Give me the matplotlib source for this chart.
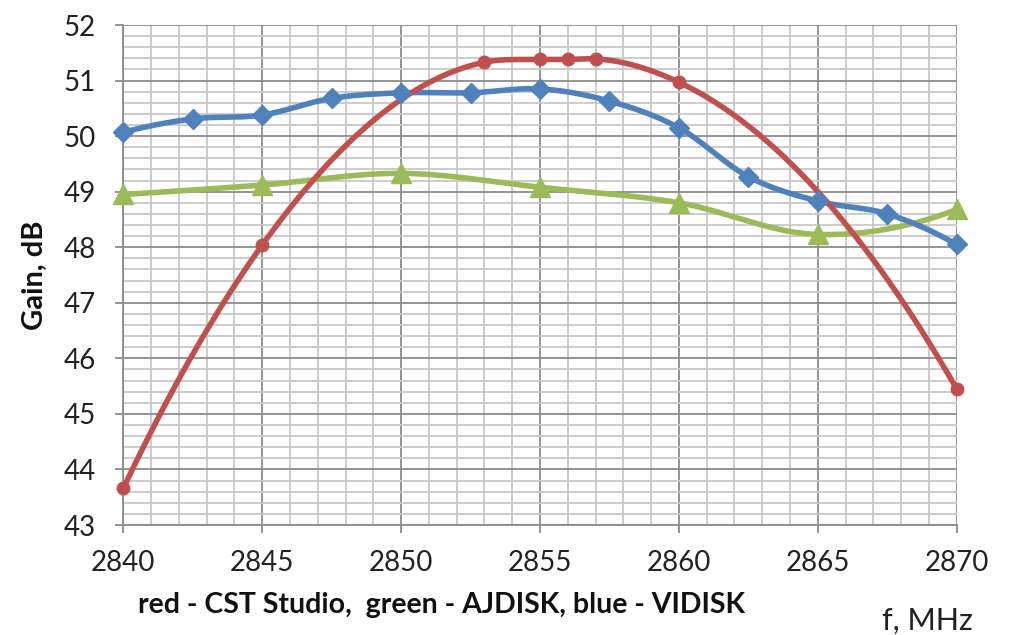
import numpy as np
import matplotlib
matplotlib.use("Agg")
import matplotlib.pyplot as plt
from matplotlib.ticker import MultipleLocator

# ---- data ----
red_f = [2840, 2845, 2853, 2855, 2856, 2857, 2860, 2870]
red_gain = [43.66, 48.04, 51.33, 51.38, 51.38, 51.39, 50.97, 45.45]

blue_f = [2840, 2842.5, 2845, 2847.5, 2850, 2852.5, 2855, 2857.5, 2860, 2862.5, 2865, 2867.5, 2870]
blue_gain = [50.07, 50.31, 50.38, 50.68, 50.78, 50.78, 50.85, 50.63, 50.15, 49.27, 48.83, 48.6, 48.05]

green_f = [2840, 2845, 2850, 2855, 2860, 2865, 2870]
green_gain = [48.95, 49.12, 49.33, 49.08, 48.8, 48.23, 48.68]

x_ticks = [2840, 2845, 2850, 2855, 2860, 2865, 2870]
y_ticks = [43, 44, 45, 46, 47, 48, 49, 50, 51, 52]

RED = "#C0504D"
BLUE = "#4F81BD"
GREEN = "#9BBB59"


def smooth(x, y, n=40):
    """Smoothed line through the points: cubic Hermite with parabolic (3-point) slopes."""
    x = np.asarray(x, float)
    y = np.asarray(y, float)
    m = len(x)
    d = np.zeros(m)
    for i in range(m):
        if i == 0:
            j = (0, 1, 2)
        elif i == m - 1:
            j = (m - 3, m - 2, m - 1)
        else:
            j = (i - 1, i, i + 1)
        x0, x1, x2 = x[list(j)]
        y0, y1, y2 = y[list(j)]
        f01 = (y1 - y0) / (x1 - x0)
        f12 = (y2 - y1) / (x2 - x1)
        f012 = (f12 - f01) / (x2 - x0)
        # derivative of the parabola through the three points at x[i]
        d[i] = f01 + f012 * ((x[i] - x0) + (x[i] - x1))
    xs, ys = [], []
    for i in range(m - 1):
        h = x[i + 1] - x[i]
        t = np.linspace(0, 1, n)
        if i > 0:
            t = t[1:]
        h00 = (1 + 2 * t) * (1 - t) ** 2
        h10 = t * (1 - t) ** 2
        h01 = t ** 2 * (3 - 2 * t)
        h11 = t ** 2 * (t - 1)
        xs.append(x[i] + t * h)
        ys.append(h00 * y[i] + h10 * h * d[i] + h01 * y[i + 1] + h11 * h * d[i + 1])
    return np.concatenate(xs), np.concatenate(ys)


plt.rcParams['font.family'] = ['Lato', 'DejaVu Sans']

fig = plt.figure(figsize=(10.18, 6.35), dpi=100)
ax = fig.add_axes([0.1211, 0.1732, 0.8187, 0.7874])

ax.set_xlim(2840, 2870)
ax.set_ylim(43, 52)
ax.xaxis.set_minor_locator(MultipleLocator(1))
ax.yaxis.set_minor_locator(MultipleLocator(0.2))
ax.set_xticks(x_ticks)
ax.set_yticks(y_ticks)

ax.grid(which='minor', color='#C8C8C8', linewidth=1.3, zorder=0)
ax.grid(which='major', color='#8C8C8C', linewidth=1.3, zorder=0)
ax.set_axisbelow(True)

for s in ['top', 'right']:
    ax.spines[s].set_visible(False)
for s in ['left', 'bottom']:
    ax.spines[s].set_color('#8C8C8C')
    ax.spines[s].set_linewidth(1.3)

ax.tick_params(axis='both', which='major', direction='out', length=6, width=1.3,
               color='#8C8C8C', labelsize=20, labelcolor='#222222')
ax.tick_params(axis='x', which='major', pad=12)
ax.tick_params(axis='y', which='major', pad=14)
ax.tick_params(which='minor', length=0)

for fx, gy, col, mk, ms in [(green_f, green_gain, GREEN, '^', 15),
                            (blue_f, blue_gain, BLUE, 'D', 10),
                            (red_f, red_gain, RED, 'o', 9)]:
    sx, sy = smooth(fx, gy)
    ax.plot(sx, sy, color=col, linewidth=4, solid_capstyle='round', zorder=3, clip_on=False)
    ax.plot(fx, gy, linestyle='none', marker=mk, markersize=ms, color=col,
            markeredgecolor=col, zorder=4, clip_on=False)

ax.set_ylabel('Gain, dB', fontsize=21, fontweight='bold', color='#111111')
ax.yaxis.set_label_coords(-0.09, 0.50)

fig.text(0.136, 0.047, 'red - CST Studio,  green - AJDISK, blue - VIDISK', fontsize=20.5,
         fontweight='bold', ha='left', va='center', color='#111111')
fig.text(0.866, 0.022, 'f, MHz', fontsize=22, ha='left', va='center', color='#222222')

fig.savefig('out.png', dpi=100)
